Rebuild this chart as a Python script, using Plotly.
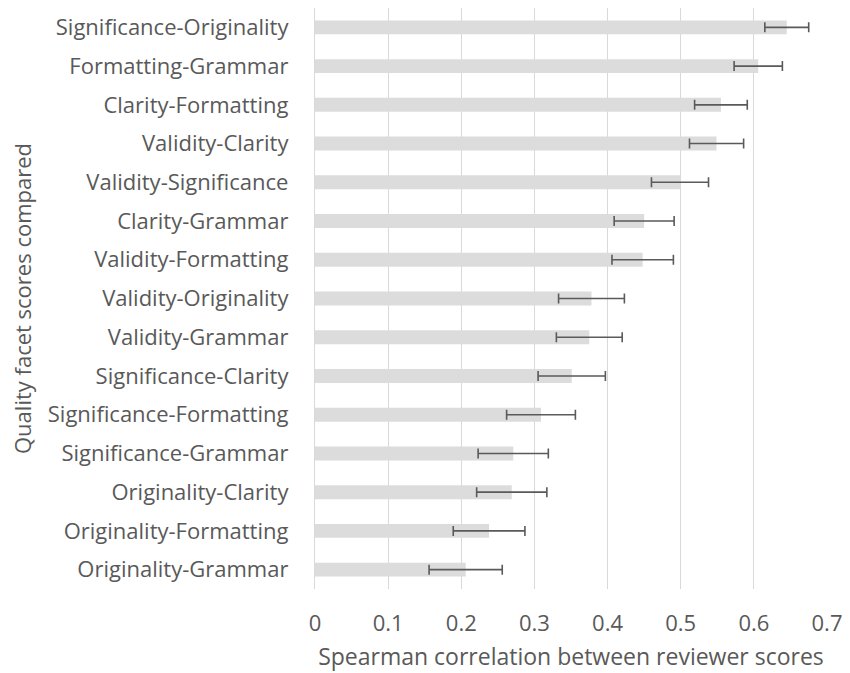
import plotly.graph_objects as go

pairs = [
    "Significance-Originality",
    "Formatting-Grammar",
    "Clarity-Formatting",
    "Validity-Clarity",
    "Validity-Significance",
    "Clarity-Grammar",
    "Validity-Formatting",
    "Validity-Originality",
    "Validity-Grammar",
    "Significance-Clarity",
    "Significance-Formatting",
    "Significance-Grammar",
    "Originality-Clarity",
    "Originality-Formatting",
    "Originality-Grammar",
]
correlation = [0.645, 0.606, 0.555, 0.549, 0.499, 0.450, 0.448, 0.378,
               0.375, 0.351, 0.309, 0.271, 0.269, 0.238, 0.206]
ci_half_width = [0.030, 0.033, 0.036, 0.037, 0.039, 0.041, 0.042, 0.045,
                 0.045, 0.046, 0.047, 0.048, 0.048, 0.049, 0.050]
x_ticks = [0, 0.1, 0.2, 0.3, 0.4, 0.5, 0.6, 0.7]

FONT = "Open Sans"
TEXT = "#595959"
SIZE = 22

fig = go.Figure(
    go.Bar(
        x=correlation,
        y=pairs,
        orientation="h",
        marker=dict(color="#dcdcdc", line=dict(width=0)),
        error_x=dict(
            type="data",
            array=ci_half_width,
            symmetric=True,
            color="#5a5a5a",
            thickness=1.6,
            width=5,
        ),
    )
)

fig.update_layout(
    width=850,
    height=673,
    paper_bgcolor="white",
    plot_bgcolor="white",
    margin=dict(l=315, r=17, t=8, b=84),
    bargap=0.64,
    showlegend=False,
    font=dict(family=FONT, color=TEXT, size=SIZE),
)

fig.update_xaxes(
    range=[0, 0.7],
    tickvals=x_ticks,
    ticktext=[f"{v:g}" for v in x_ticks],
    showgrid=True,
    gridcolor="#d9d9d9",
    gridwidth=1.3,
    zeroline=False,
    showline=False,
    ticks="",
    ticklabelstandoff=19,
    tickfont=dict(size=SIZE, color=TEXT),
    title=dict(text="Spearman correlation between reviewer scores",
               font=dict(size=SIZE + 1, color=TEXT), standoff=12),
)

fig.update_yaxes(
    autorange="reversed",
    showgrid=False,
    showline=True,
    linecolor="#d9d9d9",
    linewidth=1.3,
    ticks="",
    ticklabelstandoff=21,
    tickfont=dict(size=SIZE, color=TEXT),
    title=dict(text="Quality facet scores compared",
               font=dict(size=SIZE, color=TEXT), standoff=10),
)

fig.write_html("out.html")
